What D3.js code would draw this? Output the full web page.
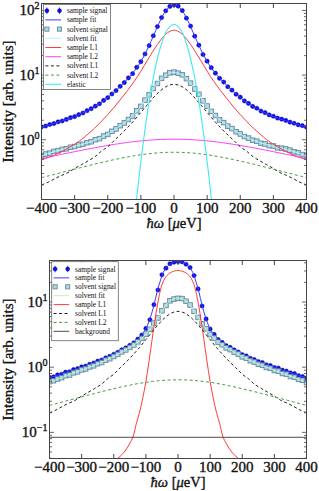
<!DOCTYPE html>
<html><head><meta charset="utf-8">
<script src="https://cdn.jsdelivr.net/npm/d3@7"></script>
<style>body{margin:0;background:#fff}svg{display:block}</style>
</head><body>
<svg id="c" width="319" height="491"></svg>
<script>
// ---------- data ----------
const energies = [-400,-387.5,-375,-362.5,-350,-337.5,-325,-312.5,-300,-287.5,-275,-262.5,-250,-237.5,-225,-212.5,-200,-187.5,-175,-162.5,-150,-137.5,-125,-112.5,-100,-87.5,-75,-62.5,-50,-37.5,-25,-12.5,0,12.5,25,37.5,50,62.5,75,87.5,100,112.5,125,137.5,150,162.5,175,187.5,200,212.5,225,237.5,250,262.5,275,287.5,300,312.5,325,337.5,350,362.5,375,387.5,400];
const grid20 = [-400,-380,-360,-340,-320,-300,-280,-260,-240,-220,-200,-180,-160,-140,-120,-100,-80,-60,-40,-20,0,20,40,60,80,100,120,140,160,180,200,220,240,260,280,300,320,340,360,380,400];
const grid10 = [-200,-190,-180,-170,-160,-150,-140,-130,-120,-110,-100,-90,-80,-70,-60,-50,-40,-30,-20,-10,0,10,20,30,40,50,60,70,80,90,100,110,120,130,140,150,160,170,180,190,200];
const elasticE = [-140,-120,-100,-80,-60,-40,-20,0,20,40,60,80,100,120,140];
const bgE = [-400,400];

const topSampleSignal = [1.58,1.63,1.72,1.78,1.89,1.95,2.06,2.19,2.28,2.44,2.59,2.81,3.02,3.31,3.6,4.05,4.47,5.1,5.75,6.7,7.65,9.05,10.5,13.2,16.1,21.2,28.5,40.6,56.2,77.5,98.5,115.2,
 122.0,116.5,99.5,76.0,57.2,40.0,29.0,20.8,16.4,13.0,10.7,8.9,7.8,6.6,5.85,5.05,4.55,3.98,3.65,3.28,3.07,2.78,2.62,2.42,2.31,2.16,2.08,1.99,1.87,1.80,1.70,1.65,1.56];
const topSolventSignal = [0.57,0.6,0.62,0.66,0.675,0.71,0.725,0.765,0.785,0.83,0.85,0.9,0.93,1.0,1.04,1.14,1.21,1.35,1.47,1.65,1.82,2.06,2.33,2.8,3.28,4.1,4.95,6.2,7.4,8.9,9.95,10.85,
 11.1,10.7,10.1,8.8,7.5,6.1,5.05,4.0,3.32,2.75,2.37,2.03,1.84,1.62,1.49,1.33,1.23,1.12,1.06,0.98,0.95,0.88,0.86,0.81,0.8,0.75,0.74,0.72,0.69,0.65,0.63,0.59,0.575];
const topSampleFit = [1.57,1.68,1.81,1.94,2.1,2.29,2.53,2.84,3.23,3.76,4.49,5.47,6.86,8.7,11.5,16.2,25.3,42.9,72.5,106.5,122.5,106.5,72.5,42.9,25.3,16.2,11.5,8.7,6.86,5.47,4.49,3.76,3.23,2.84,2.53,2.29,2.1,1.94,1.81,1.68,1.57];
const topSolventFit = [0.57,0.61,0.66,0.7,0.74,0.79,0.84,0.9,0.98,1.08,1.22,1.42,1.68,2.0,2.5,3.3,4.6,6.4,8.6,10.3,11.0,10.3,8.6,6.4,4.6,3.3,2.5,2.0,1.68,1.42,1.22,1.08,0.98,0.9,0.84,0.79,0.74,0.7,0.66,0.61,0.57];
const topSampleL1 = [0.49,0.53,0.58,0.65,0.74,0.85,1.0,1.22,1.5,1.9,2.45,3.2,4.3,5.8,8.0,11.5,17,25,35,45,49.5,45,35,25,17,11.5,8.0,5.8,4.3,3.2,2.45,1.9,1.5,1.22,1.0,0.85,0.74,0.65,0.58,0.53,0.49];
const topSampleL2 = [0.51,0.536,0.564,0.592,0.622,0.653,0.685,0.717,0.75,0.783,0.816,0.848,0.879,0.909,0.936,0.96,0.981,0.998,1.01,1.017,1.02,1.017,1.01,0.998,0.981,0.96,0.936,0.909,0.879,0.848,0.816,0.783,0.75,0.717,0.685,0.653,0.622,0.592,0.564,0.536,0.51];
const solventL1 = [0.2,0.22,0.25,0.28,0.31,0.36,0.41,0.47,0.54,0.66,0.78,0.98,1.22,1.55,2.0,2.65,3.5,4.6,5.8,6.8,7.2,6.8,5.8,4.6,3.5,2.65,2.0,1.55,1.22,0.98,0.78,0.66,0.54,0.47,0.41,0.36,0.31,0.28,0.25,0.22,0.2];
const solventL2 = [0.259,0.275,0.292,0.311,0.33,0.35,0.372,0.395,0.419,0.443,0.468,0.493,0.518,0.542,0.565,0.586,0.604,0.62,0.631,0.638,0.64,0.638,0.631,0.62,0.604,0.586,0.565,0.542,0.518,0.493,0.468,0.443,0.419,0.395,0.372,0.35,0.33,0.311,0.292,0.275,0.259];
const topElastic = [0.0043,0.054,0.46,2.68,10.5,27.9,50.2,61,50.2,27.9,10.5,2.68,0.46,0.054,0.0043];

const botSampleSignal = [0.7,0.71,0.76,0.78,0.84,0.85,0.92,0.95,1.01,1.04,1.11,1.16,1.24,1.29,1.39,1.47,1.58,1.69,1.85,1.98,2.17,2.37,2.7,3.12,3.93,5.35,9.1,15.3,26.2,33.1,38.7,40.8,
 41.8,41.4,38.0,33.8,25.5,15.9,8.7,5.5,3.85,3.18,2.66,2.4,2.14,2.01,1.84,1.71,1.56,1.49,1.37,1.31,1.22,1.18,1.09,1.06,0.99,0.97,0.9,0.87,0.82,0.8,0.74,0.72,0.68];
const botSolventSignal = [0.6,0.62,0.66,0.69,0.74,0.76,0.82,0.85,0.91,0.94,1.01,1.05,1.13,1.18,1.28,1.35,1.46,1.57,1.72,1.84,2.01,2.19,2.45,2.76,3.22,3.82,4.75,5.7,7.35,8.85,10.45,11.1,
 11.4,11.3,10.3,9.0,7.2,5.8,4.65,3.9,3.17,2.8,2.42,2.21,1.98,1.86,1.7,1.59,1.44,1.37,1.26,1.2,1.11,1.07,0.99,0.96,0.89,0.87,0.8,0.78,0.72,0.7,0.65,0.63,0.58];
const botSampleFit = [0.69,0.74,0.80,0.86,0.93,1.0,1.09,1.18,1.28,1.42,1.57,1.78,2.02,2.32,2.83,3.88,7.2,17.6,32.2,39.7,42.1,39.7,32.2,17.6,7.2,3.88,2.83,2.32,2.02,1.78,1.57,1.42,1.28,1.18,1.09,1.0,0.93,0.86,0.80,0.74,0.69];
const botSolventFit = [0.59,0.64,0.7,0.76,0.83,0.9,0.98,1.07,1.17,1.3,1.45,1.65,1.88,2.15,2.55,3.2,4.3,6.0,8.6,10.8,11.5,10.8,8.6,6.0,4.3,3.2,2.55,2.15,1.88,1.65,1.45,1.3,1.17,1.07,0.98,0.9,0.83,0.76,0.7,0.64,0.59];
const botSampleL1 = [0.036,0.039,0.043,0.048,0.056,0.068,0.085,0.135,0.2,0.33,0.6,1.25,2.8,6.0,11.5,18.5,23.5,26.8,28.8,30.0,30.5,30.0,28.8,26.8,23.5,18.5,11.5,6.0,2.8,1.25,0.6,0.33,0.2,0.135,0.085,0.068,0.056,0.048,0.043,0.039,0.036];
const botBackground = [0.084,0.084];

const xTicks = [-400,-300,-200,-100,0,100,200,300,400];
const yTicksTop = [1,10,100];
const yTicksBot = [0.1,1,10];
const topLegend = ["sample signal","sample fit","solvent signal","solvent fit","sample L1","sample L2","solvent L1","solvent L2","elastic"];
const botLegend = ["sample signal","sample fit","solvent signal","solvent fit","sample L1","solvent L1","solvent L2","background"];

// ---------- styles ----------
const FONT = '"Liberation Serif","Times New Roman",serif';
const ST = {
  sampleSignal:{type:'circle', fill:'#0a0aff', stroke:'#00008a'},
  sampleFit:{type:'line', color:'#3a3aff', width:1},
  solventSignal:{type:'square', fill:'#a9d9e8', stroke:'#5d7f98'},
  solventFitTop:{type:'line', color:'#bfeeee', width:1},
  solventFitBot:{type:'line', color:'#cdeac0', width:1},
  sampleL1:{type:'line', color:'#ff3b3b', width:1},
  sampleL2:{type:'line', color:'#ff40ff', width:1},
  solventL1:{type:'line', color:'#222', width:1, dash:'3,2.5'},
  solventL2:{type:'line', color:'#3f9f3f', width:1, dash:'3,2.5'},
  elastic:{type:'line', color:'#3ee8f0', width:1.1},
  background:{type:'line', color:'#4a4a4a', width:1}
};

const svg = d3.select('#c');
const defs = svg.append('defs');

function heavy(sel){ return sel.attr('stroke','#111').attr('stroke-width',0.35).attr('fill','#111'); }

function sup(textSel, base, exp){
  textSel.append('tspan').text(base);
  textSel.append('tspan').attr('dy',-6).attr('font-size',10).text(exp);
}

function drawPanel(cfg){
  const x = d3.scaleLinear().domain([-400,400]).range([cfg.left,cfg.right]);
  const y = d3.scaleLog().domain(cfg.yDomain).range([cfg.bottom,cfg.top]);
  const g = svg.append('g');
  defs.append('clipPath').attr('id','clip'+cfg.id).append('rect')
    .attr('x',cfg.left).attr('y',cfg.top).attr('width',cfg.right-cfg.left).attr('height',cfg.bottom-cfg.top);
  const dg = g.append('g').attr('clip-path',`url(#clip${cfg.id})`);

  cfg.series.forEach(s=>{
    const st = s.style;
    if(st.type==='line'){
      const gen = d3.line().x((d,i)=>x(s.xs[i])).y(d=>y(d)).curve(s.linear?d3.curveLinear:d3.curveCatmullRom.alpha(0.5));
      dg.append('path').attr('d',gen(s.ys)).attr('fill','none').attr('stroke',st.color)
        .attr('stroke-width',st.width).attr('stroke-dasharray',st.dash||null);
    } else if(st.type==='circle'){
      const pts = s.ys.map((v,i)=>[s.xs[i],v]);
      dg.selectAll(null).data(pts).enter().append('line')
        .attr('x1',d=>x(d[0])).attr('x2',d=>x(d[0]))
        .attr('y1',d=>y(d[1]*1.035)).attr('y2',d=>y(d[1]/1.035))
        .attr('stroke',st.fill).attr('stroke-width',0.8);
      dg.selectAll(null).data(pts).enter().append('circle')
        .attr('cx',d=>x(d[0])).attr('cy',d=>y(d[1])).attr('r',2.1)
        .attr('fill',st.fill).attr('stroke',st.stroke).attr('stroke-width',0.5);
    } else if(st.type==='square'){
      const pts = s.ys.map((v,i)=>[s.xs[i],v]);
      dg.selectAll(null).data(pts).enter().append('rect')
        .attr('x',d=>x(d[0])-2.3).attr('y',d=>y(d[1])-2.3).attr('width',4.6).attr('height',4.6)
        .attr('fill',st.fill).attr('stroke',st.stroke).attr('stroke-width',0.8);
    }
  });

  // frame
  g.append('rect').attr('x',cfg.left).attr('y',cfg.top).attr('width',cfg.right-cfg.left).attr('height',cfg.bottom-cfg.top)
    .attr('fill','none').attr('stroke','#444').attr('stroke-width',1);

  // x ticks
  xTicks.forEach(t=>{
    const px = x(t);
    g.append('line').attr('x1',px).attr('x2',px).attr('y1',cfg.bottom).attr('y2',cfg.bottom-4.5).attr('stroke','#444');
    g.append('line').attr('x1',px).attr('x2',px).attr('y1',cfg.top).attr('y2',cfg.top+4.5).attr('stroke','#444');
    heavy(g.append('text').attr('x',px).attr('y',cfg.bottom+13.5).attr('text-anchor','middle')
      .attr('font-family',FONT).attr('font-size',15))
      .text(t<0?'\u2212'+Math.abs(t):String(t));
  });
  // y ticks (major + minor)
  y.ticks().forEach(t=>{
    const lg = Math.log10(t);
    const major = Math.abs(lg-Math.round(lg))<1e-9;
    const len = major?4.5:2.5;
    const py = y(t);
    g.append('line').attr('x1',cfg.left).attr('x2',cfg.left+len).attr('y1',py).attr('y2',py).attr('stroke','#444').attr('stroke-width',0.8);
    g.append('line').attr('x1',cfg.right).attr('x2',cfg.right-len).attr('y1',py).attr('y2',py).attr('stroke','#444').attr('stroke-width',0.8);
  });
  cfg.yTicks.forEach(t=>{
    const e = Math.round(Math.log10(t));
    const tx = heavy(g.append('text').attr('x',cfg.left-2).attr('y',y(t)+5).attr('text-anchor','end')
      .attr('font-family',FONT).attr('font-size',15));
    sup(tx,'10', e<0?'\u2212'+Math.abs(e):String(e));
  });

  // axis labels
  heavy(g.append('text').attr('transform',`translate(13,${(cfg.top+cfg.bottom)/2}) rotate(-90)`)
    .attr('text-anchor','middle').attr('font-family',FONT).attr('font-size',15))
    .text('Intensity [arb. units]');
  const xl = heavy(g.append('text').attr('x',(cfg.left+cfg.right)/2).attr('y',cfg.bottom+28.5).attr('text-anchor','middle')
    .attr('font-family',FONT).attr('font-size',14.5));
  xl.append('tspan').attr('font-style','italic').text('\u0127\u03c9');
  xl.append('tspan').text(' [');
  xl.append('tspan').attr('font-style','italic').text('\u03bc');
  xl.append('tspan').text('eV]');

  // legend
  const L = cfg.legend;
  const lg = g.append('g');
  lg.append('rect').attr('x',L.x).attr('y',L.y).attr('width',L.w).attr('height',L.h)
    .attr('fill','#fff').attr('stroke','#666').attr('stroke-width',0.8);
  L.items.forEach((it,i)=>{
    const cy = L.y0 + i*L.dy;
    const st = it.style;
    const hx0 = L.x+3.4, hx1 = L.x+16;
    if(st.type==='line'){
      lg.append('line').attr('x1',hx0-1.5).attr('x2',hx1+1.5).attr('y1',cy).attr('y2',cy)
        .attr('stroke',st.color).attr('stroke-width',st.width).attr('stroke-dasharray',st.dash||null);
    } else if(st.type==='circle'){
      [hx0,hx1].forEach(hx=>{
        lg.append('line').attr('x1',hx).attr('x2',hx).attr('y1',cy-3.2).attr('y2',cy+3.2).attr('stroke',st.fill).attr('stroke-width',0.8);
        lg.append('circle').attr('cx',hx).attr('cy',cy).attr('r',2).attr('fill',st.fill).attr('stroke',st.stroke).attr('stroke-width',0.5);
      });
    } else if(st.type==='square'){
      [hx0,hx1].forEach(hx=>{
        lg.append('rect').attr('x',hx-2.1).attr('y',cy-2.1).attr('width',4.2).attr('height',4.2)
          .attr('fill',st.fill).attr('stroke',st.stroke).attr('stroke-width',0.8);
      });
    }
    lg.append('text').attr('x',L.x+23.4).attr('y',cy+2.5).attr('font-family',FONT).attr('font-size',7.4).attr('fill','#111')
      .text(it.label);
  });
}

drawPanel({
  id:'top', left:41.5, right:306.5, top:3.5, bottom:199.5, yDomain:[0.119,128], yTicks:yTicksTop,
  series:[
    {xs:energies, ys:topSampleSignal, style:ST.sampleSignal},
    {xs:grid20, ys:topSampleFit, style:ST.sampleFit},
    {xs:energies, ys:topSolventSignal, style:ST.solventSignal},
    {xs:grid20, ys:topSolventFit, style:ST.solventFitTop},
    {xs:grid20, ys:topSampleL1, style:ST.sampleL1},
    {xs:grid20, ys:topSampleL2, style:ST.sampleL2},
    {xs:grid20, ys:solventL1, style:ST.solventL1},
    {xs:grid20, ys:solventL2, style:ST.solventL2},
    {xs:elasticE, ys:topElastic, style:ST.elastic}
  ],
  legend:{x:43.5,y:4.5,w:67,h:85,y0:10.7,dy:9.2,items:[
    {label:topLegend[0],style:ST.sampleSignal},{label:topLegend[1],style:ST.sampleFit},
    {label:topLegend[2],style:ST.solventSignal},{label:topLegend[3],style:ST.solventFitTop},
    {label:topLegend[4],style:ST.sampleL1},{label:topLegend[5],style:ST.sampleL2},
    {label:topLegend[6],style:ST.solventL1},{label:topLegend[7],style:ST.solventL2},
    {label:topLegend[8],style:ST.elastic}]}
});

drawPanel({
  id:'bot', left:49.5, right:306.5, top:260.5, bottom:458.5, yDomain:[0.0397,43.4], yTicks:yTicksBot,
  series:[
    {xs:energies, ys:botSampleSignal, style:ST.sampleSignal},
    {xs:grid20, ys:botSampleFit, style:ST.sampleFit},
    {xs:energies, ys:botSolventSignal, style:ST.solventSignal},
    {xs:grid20, ys:botSolventFit, style:ST.solventFitBot},
    {xs:grid10, ys:botSampleL1, style:ST.sampleL1},
    {xs:grid20, ys:solventL1, style:ST.solventL1},
    {xs:grid20, ys:solventL2, style:ST.solventL2},
    {xs:bgE, ys:botBackground, style:ST.background, linear:true}
  ],
  legend:{x:51.7,y:261.7,w:66.6,h:79,y0:269,dy:8.9,items:[
    {label:botLegend[0],style:ST.sampleSignal},{label:botLegend[1],style:ST.sampleFit},
    {label:botLegend[2],style:ST.solventSignal},{label:botLegend[3],style:ST.solventFitBot},
    {label:botLegend[4],style:ST.sampleL1},{label:botLegend[5],style:ST.solventL1},
    {label:botLegend[6],style:ST.solventL2},{label:botLegend[7],style:ST.background}]}
});
</script>
</body></html>
